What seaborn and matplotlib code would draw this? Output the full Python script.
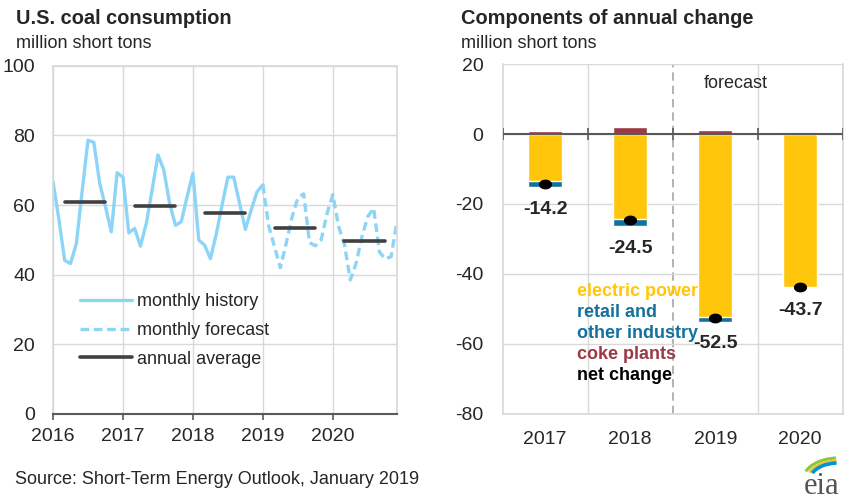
import numpy as np
import pandas as pd
import matplotlib
matplotlib.use("Agg")
import matplotlib.pyplot as plt
from matplotlib.path import Path
from matplotlib.patches import Arc
import seaborn as sns

# monthly coal consumption, million short tons
history = [66.7, 56.0, 44.1, 43.2, 48.9, 64.0, 78.6, 78.0, 66.3, 59.5, 52.3, 69.3,
           68.0, 52.0, 53.3, 48.2, 54.7, 64.3, 74.4, 70.1, 60.5, 54.2, 55.2, 62.4,
           69.1, 49.9, 48.5, 44.6, 51.6, 60.0, 68.0, 68.0, 60.5, 53.0, 58.6, 63.8,
           65.8]
forecast = [54.0, 48.0, 42.0, 49.0, 56.5, 62.0, 63.2, 49.2, 48.3, 50.0, 57.5,
            63.0, 53.8, 48.6, 38.5, 43.3, 51.0, 56.7, 59.1, 46.5, 44.5, 45.2, 55.3]
avg_years = [2016, 2017, 2018, 2019, 2020]
annual_avg = [60.8, 59.8, 57.6, 53.3, 49.7]

# components of annual change
years = ["2017", "2018", "2019", "2020"]
electric = [-13.5, -24.4, -52.4, -43.6]
retail = [-1.7, -2.0, -1.2, -0.5]
coke = [1.0, 1.9, 1.1, 0.4]
net = [-14.2, -24.5, -52.5, -43.7]

LBLUE = "#8DD5F7"
DGREY = "#404040"
GOLD = "#FFC60B"
BLUE = "#13719E"
RED = "#9B3A45"
GRID = "#D9D9D9"

sns.set_theme(style="white")
plt.rcParams["font.family"] = ["Liberation Sans", "DejaVu Sans"]
plt.rcParams["axes.unicode_minus"] = False

fig = plt.figure(figsize=(8.62, 5.04), dpi=100)
ax1 = fig.add_axes([0.0615, 0.1786, 0.399, 0.691])
ax2 = fig.add_axes([0.5832, 0.1786, 0.3944, 0.6944])

# ---- left panel
n_hist = len(history)
hist_df = pd.DataFrame({"x": 2016 + np.arange(n_hist) / 12, "y": history})
fc_vals = [history[-1]] + forecast
fc_df = pd.DataFrame({"x": 2016 + (n_hist - 1 + np.arange(len(fc_vals))) / 12, "y": fc_vals})

sns.lineplot(data=hist_df, x="x", y="y", ax=ax1, color=LBLUE, lw=2.4,
             label="monthly history")
sns.lineplot(data=fc_df, x="x", y="y", ax=ax1, color=LBLUE, lw=2.4,
             dashes=False, label="monthly forecast")
ax1.lines[-1].set_dashes([2.6, 1.4])
for i, (yr, v) in enumerate(zip(avg_years, annual_avg)):
    ax1.plot([yr + 2 / 12, yr + 9 / 12], [v, v], color=DGREY, lw=2.6,
             solid_capstyle="round", label="annual average" if i == 0 else None)

ax1.set_xlim(2016, 2016 + (n_hist + len(forecast) - 1) / 12)
ax1.set_ylim(0, 100)
ax1.set_xticks(avg_years)
ax1.set_xticklabels([str(y) for y in avg_years])
ax1.set_yticks(range(0, 101, 20))
ax1.grid(True, color=GRID, lw=1)
ax1.set_axisbelow(True)
for s in ["left", "right", "top"]:
    ax1.spines[s].set_color(GRID)
ax1.spines["bottom"].set_color("#595959")
ax1.spines["bottom"].set_linewidth(1.5)
ax1.tick_params(axis="x", bottom=True, length=4, width=1.2, color="#595959",
                pad=6, labelsize=14)
ax1.tick_params(axis="y", left=False, length=0, pad=13, labelsize=14)
ax1.set_xlabel("")
ax1.set_ylabel("")
leg = ax1.legend(loc="upper left", bbox_to_anchor=(0.078, 0.347), frameon=False,
                 fontsize=13, handlelength=2.9, handletextpad=0.25, labelspacing=0.65,
                 borderaxespad=0, borderpad=0)

# ---- right panel
total_neg = [e + r for e, r in zip(electric, retail)]
sns.barplot(x=years, y=total_neg, ax=ax2, color=BLUE, width=0.4, saturation=1)
sns.barplot(x=years, y=electric, ax=ax2, color=GOLD, width=0.4, saturation=1)
sns.barplot(x=years, y=coke, ax=ax2, color=RED, width=0.4, saturation=1)

t = np.linspace(0, 2 * np.pi, 40)
ellipse = Path(np.column_stack([1.4 * np.cos(t), np.sin(t)]))
ax2.plot(range(len(years)), net, ls="none", marker=ellipse, ms=8.5, color="black")
for i, (v, b) in enumerate(zip(net, total_neg)):
    ax2.annotate(f"{v:.1f}", (i, b), xytext=(0, -16), textcoords="offset points",
                 ha="center", va="center", fontsize=14, fontweight="bold")

ax2.set_xlim(-0.5, len(years) - 0.5)
ax2.set_ylim(-80, 20)
ax2.set_yticks(range(-80, 21, 20))
ax2.yaxis.grid(True, color=GRID, lw=1)
ax2.set_axisbelow(True)
for xb in [0.5, 2.5]:
    ax2.axvline(xb, color=GRID, lw=1, zorder=0)
ax2.axvline(1.5, color="#A6A6A6", lw=1.2, ls=(0, (5, 3)), zorder=0.5)
ax2.axhline(0, color="#595959", lw=1.5, zorder=3)
ax2.vlines(np.arange(-0.5, len(years)), -1.6, 1.6, color="#595959", lw=1.2, zorder=3)
for s in ["left", "right", "top", "bottom"]:
    ax2.spines[s].set_color(GRID)
ax2.spines["top"].set_visible(False)
ax2.tick_params(axis="x", bottom=False, length=0, pad=12, labelsize=14)
ax2.tick_params(axis="y", left=False, length=0, pad=14, labelsize=14)
ax2.set_xlabel("")
ax2.set_ylabel("")
ax2.text(2.24, 14.3, "forecast", ha="center", va="center", fontsize=13)

key = [("electric power", GOLD), ("retail and", BLUE), ("other industry", BLUE),
       ("coke plants", RED), ("net change", "black")]
for k, (txt, c) in enumerate(key):
    ax2.text(0.218, 0.349 - k * 0.0595, txt, transform=ax2.transAxes, color=c,
             fontsize=13, fontweight="bold", ha="left", va="center")

# ---- titles, source, logo
fig.text(16 / 862, 1 - 19 / 504, "U.S. coal consumption", fontsize=14.4,
         fontweight="bold", va="center")
fig.text(16 / 862, 1 - 43 / 504, "million short tons", fontsize=13, va="center")
fig.text(461 / 862, 1 - 19 / 504, "Components of annual change", fontsize=14.4,
         fontweight="bold", va="center")
fig.text(461 / 862, 1 - 43 / 504, "million short tons", fontsize=13, va="center")
fig.text(15 / 862, 1 - 480 / 504, "Source: Short-Term Energy Outlook, January 2019",
         fontsize=13, va="center")

fig.text(822 / 862, 1 - 486 / 504, "eia", family=["Liberation Serif", "DejaVu Serif"],
         fontsize=22, color="#555555", ha="center", va="center")
lax = fig.add_axes([800 / 862, 1 - 480 / 504, 50 / 862, 30 / 504])
lax.set_xlim(0, 50)
lax.set_ylim(0, 30)
lax.axis("off")
for (w, h, c, lw) in [(70, 44, "#8CC63F", 2.2), (62, 38, "#F2C12E", 2.2), (56, 34, "#0096D6", 2.6)]:
    lax.add_patch(Arc((38, 0), w, h, theta1=95, theta2=165, color=c, lw=lw))

fig.savefig("out.png", dpi=100)
